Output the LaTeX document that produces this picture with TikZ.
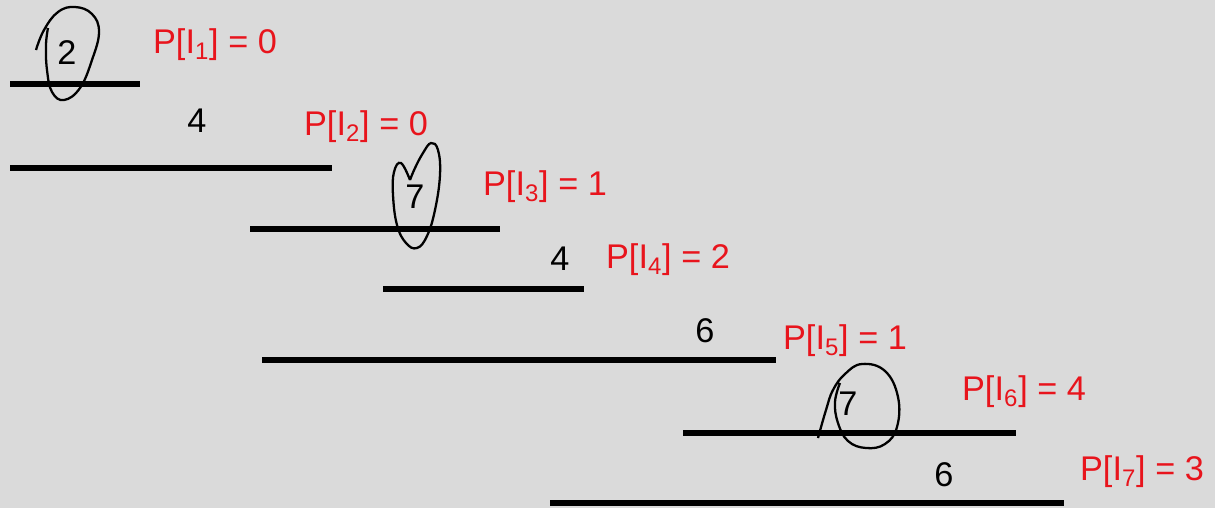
\documentclass[tikz,border=0pt]{standalone}
\usepackage{fontspec}
\setmainfont{Liberation Sans}
\definecolor{bgGrey}{HTML}{DADADA}
\definecolor{lblRed}{HTML}{E8141C}
\tikzset{
  seg/.style={line width=2.9pt, draw=black},
  wt/.style={font=\fontsize{19.5}{20}\selectfont, text=black, inner sep=1pt},
  plbl/.style={font=\fontsize{19.5}{20}\selectfont, text=lblRed, inner sep=1pt},
  loop/.style={draw=black, line width=1.3pt, smooth, tension=0.7},
}

\begin{document}
\begin{tikzpicture}[x=0.02cm, y=-0.02cm]
  \fill[bgGrey] (0,0) rectangle (1215,508);
  \useasboundingbox (0,0) rectangle (1215,508);
  % intervals: id / left / right / height / weight pos / weight / label pos / value
  \foreach \i/\xa/\xb/\y/\wx/\wy/\w/\lx/\ly/\p in {
      1/10/140/84/67/53/2/215/45/0,
      2/10/332/168/197/121/4/366/127/0,
      3/250/500/229/415/197/7/545/187/1,
      4/383/584/289/560/259/4/668/260/2,
      5/262/776/360/705/331/6/845/341/1,
      6/683/1016/433/848/404/7/1024/392/4,
      7/550/1064/503/944/475/6/1142/472/3}{
    \coordinate (a\i) at (\xa,\y);
    \coordinate (b\i) at (\xb,\y);
    \draw[seg] (a\i) -- (b\i);
    \node[wt] (w\i) at (\wx,\wy) {\w};
    \node[plbl] (p\i) at (\lx,\ly) {P[I\textsubscript{\i}] = \p};
  }
  % hand-drawn marks
  \draw[loop] plot coordinates {(36,50) (44,30) (58,12) (75,7) (92,14) (99,32)
      (92,60) (80,88) (64,100) (52,92) (47,70) (46,45) (48,28)};
  \draw[loop] plot coordinates {(410,180) (401,163) (394,172) (393,195) (397,225)
      (406,243) (417,248) (427,236) (435,210) (440,175) (438,150) (431,143)
      (423,153) (415,168) (410,180)};
  \draw[loop] plot coordinates {(818,438) (826,410) (833,390) (845,374) (862,364)
      (885,371) (898,397) (897,427) (885,444) (866,448) (848,441) (838,423)
      (835,402) (840,383)};
\end{tikzpicture}
\end{document}
